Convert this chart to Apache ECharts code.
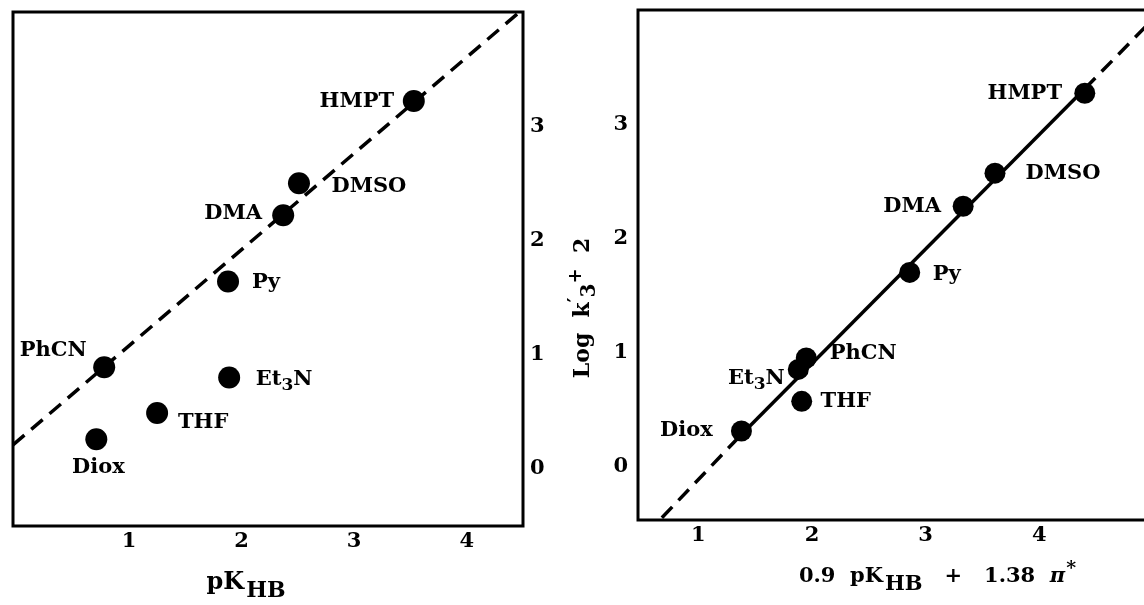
<!DOCTYPE html>
<html>
<head>
<meta charset="utf-8">
<script src="https://cdn.jsdelivr.net/npm/echarts@6/dist/echarts.min.js"></script>
<style>
html,body{margin:0;padding:0;background:#fff;overflow:hidden;}
#chart{width:1144px;height:605px;}
</style>
</head>
<body>
<div id="chart"></div>
<script>
// ---- data ----
const solvents = ['HMPT', 'DMSO', 'DMA', 'Py', 'PhCN', 'Et3N', 'THF', 'Diox'];
const solventLabels = ['HMPT', 'DMSO', 'DMA', 'Py', 'PhCN', 'Et{sub|3}N', 'THF', 'Diox'];
// left panel: log k'3 + 2 vs pK_HB
const pKHB = [3.53, 2.51, 2.37, 1.88, 0.78, 1.89, 1.25, 0.71];
const logKLeft = [3.22, 2.50, 2.22, 1.64, 0.89, 0.80, 0.49, 0.26];
// right panel: log k'3 + 2 vs 0.9 pK_HB + 1.38 pi*
const combinedParam = [4.40, 3.61, 3.33, 2.86, 1.95, 1.88, 1.91, 1.38];
const logKRight = [3.27, 2.57, 2.28, 1.70, 0.95, 0.85, 0.57, 0.31];
// fitted lines
const leftFitX = [-0.03, 4.47];
const leftFitY = [0.21, 4.0];
const rightFitX = [0.68, 1.38, 4.40, 4.97];
const rightFitY = [-0.45, 0.28, 3.31, 3.89];
// tick labels
const xTickLabels = [1, 2, 3, 4];
const yTickLabels = [0, 1, 2, 3];

// ---- styling (not data) ----
const FONT = 'DejaVu Serif';
const leftLabelOffsets = {
  HMPT: [-57, 0], DMSO: [70, 3], DMA: [-50, -2], Py: [38, 1],
  PhCN: [-51, -17], Et3N: [55, 2], THF: [46, 10], Diox: [2, 28]
};
const rightLabelOffsets = {
  HMPT: [-60, 0], DMSO: [68, 0], DMA: [-51, 0], Py: [37, 2],
  PhCN: [57, -4], Et3N: [-42, 9], THF: [44, 0], Diox: [-55, 0]
};
const richText = {
  sub: { fontFamily: FONT, fontWeight: 'bold', fontSize: 17, color: '#000', padding: [12, 0, 0, 0] }
};

function zip(a, b) { return a.map((v, i) => [v, b[i]]); }

function scatterData(xs, ys, offsets, size) {
  return solvents.map((s, i) => {
    const o = offsets[s];
    return {
      name: s,
      value: [xs[i], ys[i]],
      label: {
        show: true,
        position: [size / 2 + o[0], size / 2 + o[1]],
        align: 'center',
        verticalAlign: 'middle',
        formatter: solventLabels[i],
        color: '#000',
        fontFamily: FONT,
        fontWeight: 'bold',
        fontSize: 21,
        rich: richText
      }
    };
  });
}

function tickFormatter(list) {
  return function (v) {
    const r = Math.round(v * 100) / 100;
    return list.indexOf(r) >= 0 ? String(r) : '';
  };
}

const axisLabelStyle = { fontFamily: FONT, fontWeight: 'bold', fontSize: 21, color: '#000' };
const hidden = { axisLine: { show: false }, axisTick: { show: false }, splitLine: { show: false } };

const chart = echarts.init(document.getElementById('chart'), null, { renderer: 'canvas' });
chart.setOption({
  animation: false,
  backgroundColor: '#fff',
  grid: [
    { left: 13, top: 12, width: 510, height: 514, show: true, borderColor: '#000', borderWidth: 3, containLabel: false, outerBoundsMode: 'none' },
    { left: 638, top: 10, width: 515, height: 510, show: true, borderColor: '#000', borderWidth: 3, containLabel: false, outerBoundsMode: 'none' }
  ],
  xAxis: [
    Object.assign({
      gridIndex: 0, type: 'value', min: -0.03, max: 4.5, splitNumber: 5,
      axisLabel: Object.assign({ margin: 5, formatter: tickFormatter(xTickLabels) }, axisLabelStyle),
      name: 'pK{sub|HB}', nameLocation: 'middle', nameGap: 38,
      nameTextStyle: {
        fontFamily: FONT, fontWeight: 'bold', fontSize: 24, color: '#000', padding: [0, 44, 0, 0],
        rich: { sub: { fontFamily: FONT, fontWeight: 'bold', fontSize: 22, color: '#000', padding: [16, 0, 0, 2] } }
      }
    }, hidden),
    Object.assign({
      gridIndex: 1, type: 'value', min: 0.47, max: 5, splitNumber: 5,
      axisLabel: Object.assign({ margin: 5, formatter: tickFormatter(xTickLabels) }, axisLabelStyle),
      name: '0.9  pK{sub|HB}   +   1.38  {pi|π}{sup|*}', nameLocation: 'middle', nameGap: 38,
      nameTextStyle: {
        fontFamily: FONT, fontWeight: 'bold', fontSize: 21, color: '#000', padding: [0, 0, 0, 84],
        rich: {
          sub: { fontFamily: FONT, fontWeight: 'bold', fontSize: 21, color: '#000', padding: [16, 0, 0, 2] },
          sup: { fontFamily: FONT, fontWeight: 'bold', fontSize: 19, color: '#000', padding: [0, 0, 14, 1] },
          pi: { fontFamily: FONT, fontWeight: 'bold', fontStyle: 'italic', fontSize: 21, color: '#000' }
        }
      }
    }, hidden)
  ],
  yAxis: [
    Object.assign({
      gridIndex: 0, type: 'value', position: 'right', min: -0.5, max: 4, splitNumber: 5,
      axisLabel: Object.assign({ margin: 7, formatter: tickFormatter(yTickLabels) }, axisLabelStyle)
    }, hidden),
    Object.assign({
      gridIndex: 1, type: 'value', position: 'left', min: -0.47, max: 4, splitNumber: 5,
      axisLabel: Object.assign({ margin: 10, formatter: tickFormatter(yTickLabels) }, axisLabelStyle),
      name: 'Log  k{sup|′}{sub|3}{sup|+}  2', nameLocation: 'middle', nameRotate: 90, nameGap: 38,
      nameTextStyle: {
        fontFamily: FONT, fontWeight: 'bold', fontSize: 22, color: '#000', padding: [0, 86, 0, 0],
        rich: {
          sub: { fontFamily: FONT, fontWeight: 'bold', fontSize: 20, color: '#000', padding: [14, 0, 0, 0] },
          sup: { fontFamily: FONT, fontWeight: 'bold', fontSize: 18, color: '#000', padding: [0, 0, 14, 0] }
        }
      }
    }, hidden)
  ],
  series: [
    {
      type: 'line', xAxisIndex: 0, yAxisIndex: 0, data: zip(leftFitX, leftFitY),
      symbol: 'none', lineStyle: { color: '#000', width: 3.5, type: [15, 9], opacity: 1 }, z: 2
    },
    {
      type: 'scatter', xAxisIndex: 0, yAxisIndex: 0, symbol: 'circle', symbolSize: 22,
      itemStyle: { color: '#000', opacity: 1 }, data: scatterData(pKHB, logKLeft, leftLabelOffsets, 22), z: 3
    },
    {
      type: 'line', xAxisIndex: 1, yAxisIndex: 1, data: zip(rightFitX.slice(0, 2), rightFitY.slice(0, 2)),
      symbol: 'none', lineStyle: { color: '#000', width: 3.5, type: [15, 9], opacity: 1 }, z: 2
    },
    {
      type: 'line', xAxisIndex: 1, yAxisIndex: 1, data: zip(rightFitX.slice(1, 3), rightFitY.slice(1, 3)),
      symbol: 'none', lineStyle: { color: '#000', width: 3.5, type: 'solid', opacity: 1 }, z: 2
    },
    {
      type: 'line', xAxisIndex: 1, yAxisIndex: 1, data: zip(rightFitX.slice(2, 4), rightFitY.slice(2, 4)),
      symbol: 'none', lineStyle: { color: '#000', width: 3.5, type: [15, 9], opacity: 1 }, z: 2
    },
    {
      type: 'scatter', xAxisIndex: 1, yAxisIndex: 1, symbol: 'circle', symbolSize: 21,
      itemStyle: { color: '#000', opacity: 1 }, data: scatterData(combinedParam, logKRight, rightLabelOffsets, 21), z: 3
    }
  ]
});
</script>
</body>
</html>
